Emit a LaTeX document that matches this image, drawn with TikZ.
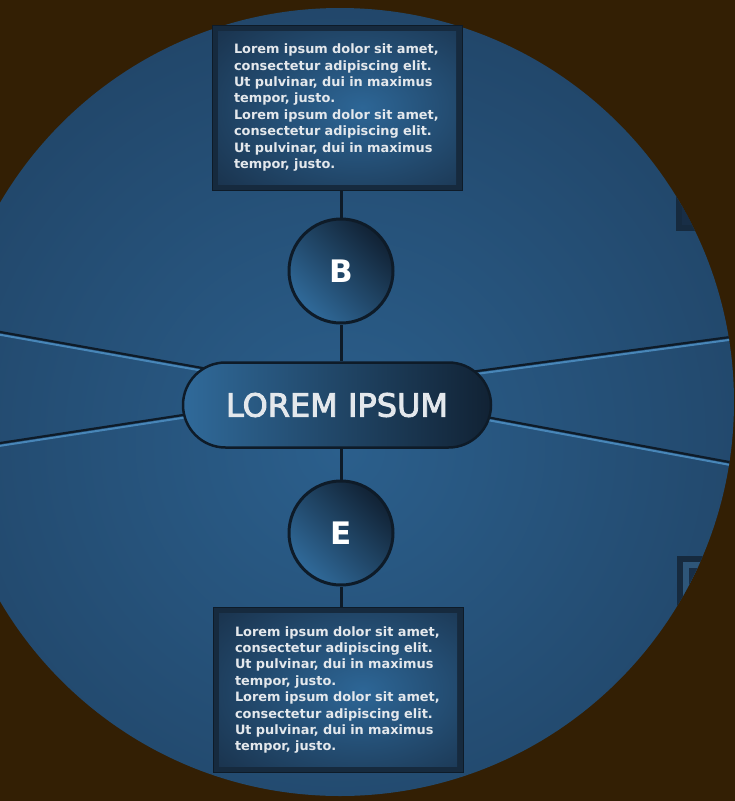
\documentclass[tikz,border=0pt]{standalone}
\usepackage{fontspec}
\setmainfont{DejaVu Sans}
\newcommand{\thicktext}[1]{\special{pdf:literal direct 2 Tr 0.9 w}#1\special{pdf:literal direct 0 Tr}}
\usetikzlibrary{shapes.misc}
\definecolor{bg}{RGB}{51,31,4}
\definecolor{cin}{RGB}{43,95,140}
\definecolor{cmid}{RGB}{34,72,108}
\definecolor{cout}{RGB}{27,50,75}
\definecolor{frame}{RGB}{22,42,62}
\definecolor{boxlight}{RGB}{45,102,150}
\definecolor{boxdark}{RGB}{24,46,70}
\definecolor{edge}{RGB}{14,27,40}
\definecolor{hilite}{RGB}{72,134,184}
\definecolor{pilllight}{RGB}{48,106,154}
\definecolor{pilldark}{RGB}{17,34,52}
\definecolor{txt}{RGB}{228,232,236}
\pgfdeclareradialshading{bigrad}{\pgfpoint{0bp}{-3bp}}{color(0bp)=(cin); color(26bp)=(cmid); color(50bp)=(cout); color(100bp)=(cout)}
\pgfdeclareradialshading{boxrad}{\pgfpoint{5bp}{0bp}}{color(0bp)=(boxlight); color(40bp)=(boxdark); color(55bp)=(frame); color(100bp)=(frame)}
\tikzset{
  infobox/.style={draw=edge, line width=1pt, fill=frame, minimum width=250pt, minimum height=165pt,
    inner sep=0pt, text width=206pt, align=left, text=txt,
    font=\bfseries\fontsize{12.9}{16.4}\selectfont,
    path picture={\shade[shading=boxrad] ([shift={(6pt,6pt)}]path picture bounding box.south west) rectangle ([shift={(-6pt,-6pt)}]path picture bounding box.north east);}},
  letter/.style={circle, draw=edge, line width=3pt, minimum size=104pt, inner sep=0pt,
    top color=pilldark, bottom color=pilllight, shading angle=-45, text=white,
    font=\bfseries\fontsize{31}{33}\selectfont},
  pill/.style={rounded rectangle, draw=edge, line width=2.5pt, minimum width=308pt, minimum height=85pt,
    inner sep=0pt, left color=pilllight, right color=pilldark, text=txt,
    font=\fontsize{32}{36}\selectfont},
  link/.style={draw=edge, line width=3pt},
  ridgedark/.style={draw=edge, line width=2.2pt},
  ridgelight/.style={draw=hilite, line width=2pt},
}
\begin{document}
\begin{tikzpicture}[x=1pt,y=-1pt]
\useasboundingbox (0,0) rectangle (735,801);
\fill[bg] (0,0) rectangle (735,801);
\begin{scope}
  \clip (340,402) circle[radius=394];
  \shade[shading=bigrad] (340,402) circle[radius=394];
  % partially hidden boxes at the right edge
  \fill[frame] (676,120) rectangle (800,231);
  \fill[boxdark] (682,120) rectangle (800,225);
  \fill[frame] (677,556) rectangle (800,680);
  \fill[hilite!45!boxdark] (683,562) rectangle (800,680);
  \fill[boxdark] (689,568) rectangle (800,680);
  % side lines
  \coordinate (ul0) at (-20,328.4); \coordinate (ul1) at (230,372.9);
  \coordinate (ll0) at (-20,446.1); \coordinate (ll1) at (230,407.8);
  \coordinate (ur0) at (760,333.0); \coordinate (ur1) at (450,374.7);
  \coordinate (lr0) at (760,467.7); \coordinate (lr1) at (450,410.3);
  \foreach \a/\b in {ul0/ul1,ll0/ll1,ur0/ur1,lr0/lr1}{
    \draw[ridgelight] ([yshift=-2.8pt]\a) -- ([yshift=-2.8pt]\b);
    \draw[ridgedark] (\a) -- (\b);
  }
\end{scope}
\node[infobox] (topbox) at (337,107.5) {Lorem ipsum dolor sit amet,\\consectetur adipiscing elit.\\Ut pulvinar, dui in maximus\\tempor, justo.\\Lorem ipsum dolor sit amet,\\consectetur adipiscing elit.\\Ut pulvinar, dui in maximus\\tempor, justo.};
\node[infobox] (botbox) at (338,690) {Lorem ipsum dolor sit amet,\\consectetur adipiscing elit.\\Ut pulvinar, dui in maximus\\tempor, justo.\\Lorem ipsum dolor sit amet,\\consectetur adipiscing elit.\\Ut pulvinar, dui in maximus\\tempor, justo.};
\node[letter] (B) at (341,271) {B};
\node[letter] (E) at (341,533) {E};
\node[pill] (main) at (337,405) {\thicktext{LOREM IPSUM}};
\draw[link] (B.north) -- (B.north |- topbox.south);
\draw[link] (B.south) -- (B.south |- main.north);
\draw[link] (E.north) -- (E.north |- main.south);
\draw[link] (E.south) -- (E.south |- botbox.north);
\end{tikzpicture}
\end{document}
